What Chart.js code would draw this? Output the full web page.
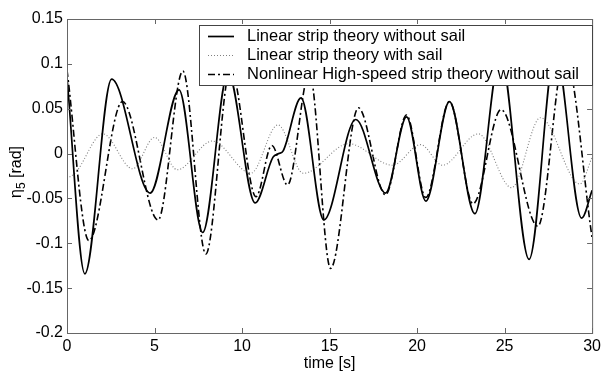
<!DOCTYPE html>
<html lang="en">
<head>
<meta charset="UTF-8">
<title>Pitch motion</title>
<style>
    html, body { margin: 0; padding: 0; background: #fff; }
    #wrap { width: 605px; height: 373px; }
</style>
</head>
<body>
<div id="wrap"><canvas id="pitchChart" width="605" height="373"></canvas></div>

<script src="https://cdn.jsdelivr.net/npm/chart.js"></script>
<script>
    // values (turning points of each curve)
    const seriesNames = [
        'Linear strip theory without sail',
        'Linear strip theory with sail',
        'Nonlinear High-speed strip theory without sail'
    ];

    const noSailT = [0, 1.02, 2.55, 4.75, 6.4, 7.75, 9.2, 10.75, 11.77, 12.1, 12.35, 13.37, 14.67, 16.5, 18.2, 19.4, 20.5, 21.85, 23.3, 24.76, 26.4, 27.9, 29.4, 30];
    const noSailV = [0.085, -0.134, 0.083, -0.044, 0.071, -0.088, 0.09, -0.055, -0.004, 0.0, 0.003, 0.062, -0.074, 0.038, -0.044, 0.041, -0.053, 0.058, -0.067, 0.11, -0.118, 0.115, -0.072, -0.041];

    const sailT = [0, 0.5, 2.05, 3.75, 5.0, 6.3, 8.3, 10.5, 12.05, 13.5, 16.1, 18.6, 20.2, 21.45, 23.5, 25.4, 27.05, 29.3, 30];
    const sailV = [-0.028, -0.021, 0.022, -0.017, 0.018, -0.018, 0.014, -0.022, 0.032, -0.022, 0.011, -0.013, 0.010, -0.013, 0.022, -0.038, 0.040, -0.034, -0.004];

    const nonlinT = [0, 1.25, 3.17, 5.2, 6.62, 7.93, 9.35, 10.8, 11.7, 12.6, 13.85, 15.06, 16.65, 18.2, 19.4, 20.5, 21.85, 23.2, 24.8, 26.9, 28.45, 30];
    const nonlinV = [0.093, -0.097, 0.058, -0.074, 0.092, -0.112, 0.095, -0.048, 0.009, -0.035, 0.09, -0.128, 0.051, -0.046, 0.043, -0.049, 0.058, -0.056, 0.049, -0.081, 0.11, -0.094];

    const xTicks = [0, 5, 10, 15, 20, 25, 30];
    const yTicks = [-0.2, -0.15, -0.1, -0.05, 0, 0.05, 0.1, 0.15];
    const yTickLabels = ['-0.2', '-0.15', '-0.1', '-0.05', '0', '0.05', '0.1', '0.15'];

    function pairUp(ts, vs) {
        return ts.map((t, i) => ({ x: t, y: vs[i] }));
    }

    const lineStyles = [
        { color: '#000', width: 1.7, dash: [] },
        { color: '#808080', width: 1.1, dash: [1, 2] },
        { color: '#000', width: 1.6, dash: [7, 3, 2, 3] }
    ];

    const FONT = 'Liberation Sans, Arial, sans-serif';

    // box round the plot with ticks pointing inwards, like the original
    const boxPlugin = {
        id: 'boxTicks',
        afterDatasetsDraw(chart) {
            const { ctx, chartArea: a, scales } = chart;
            ctx.save();
            ctx.strokeStyle = '#666';
            ctx.lineWidth = 1;
            ctx.strokeRect(a.left + 0.5, a.top + 0.5, a.right - a.left, a.bottom - a.top);
            ctx.beginPath();
            xTicks.forEach(v => {
                const px = Math.round(scales.x.getPixelForValue(v)) + 0.5;
                ctx.moveTo(px, a.bottom); ctx.lineTo(px, a.bottom - 5);
                ctx.moveTo(px, a.top); ctx.lineTo(px, a.top + 5);
            });
            yTicks.forEach(v => {
                const py = Math.round(scales.y.getPixelForValue(v)) + 0.5;
                ctx.moveTo(a.left, py); ctx.lineTo(a.left + 5, py);
                ctx.moveTo(a.right, py); ctx.lineTo(a.right - 5, py);
            });
            ctx.stroke();
            ctx.restore();
        },
        afterDraw(chart) {
            const { ctx } = chart;
            // legend box inside the plot
            const bx = 199, by = 25, bw = 393, bh = 60;
            ctx.save();
            ctx.fillStyle = '#fff';
            ctx.fillRect(bx, by, bw, bh);
            ctx.strokeStyle = '#444';
            ctx.lineWidth = 1;
            ctx.strokeRect(bx + 0.5, by + 0.5, bw, bh);
            ctx.font = '16.5px ' + FONT;
            ctx.textBaseline = 'middle';
            ctx.fillStyle = '#000';
            seriesNames.forEach((name, i) => {
                const y = 36.5 + i * 19;
                const st = lineStyles[i];
                ctx.beginPath();
                ctx.strokeStyle = st.color;
                ctx.lineWidth = st.width;
                ctx.setLineDash(st.dash);
                ctx.moveTo(208, y); ctx.lineTo(234, y);
                ctx.stroke();
                ctx.setLineDash([]);
                ctx.fillText(name, 247, y);
            });

            // y axis title: eta with subscript 5
            ctx.translate(25, 172);
            ctx.rotate(-Math.PI / 2);
            ctx.textBaseline = 'alphabetic';
            ctx.textAlign = 'left';
            const big = '16px ' + FONT, small = '12px ' + FONT;
            ctx.font = big;
            const w1 = ctx.measureText('\u03b7').width;
            const w3 = ctx.measureText(' [rad]').width;
            ctx.font = small;
            const w2 = ctx.measureText('5').width;
            let x = -(w1 + w2 + w3) / 2;
            ctx.font = big;
            ctx.fillText('\u03b7', x, -4);
            x += w1;
            ctx.font = small;
            ctx.fillText('5', x, 0);
            x += w2;
            ctx.font = big;
            ctx.fillText(' [rad]', x, -4);
            ctx.restore();
        }
    };

    Chart.defaults.font.family = FONT;
    Chart.defaults.font.size = 16;
    Chart.defaults.color = '#000';

    const datasets = [
        pairUp(noSailT, noSailV),
        pairUp(sailT, sailV),
        pairUp(nonlinT, nonlinV)
    ].map((pts, i) => ({
        label: seriesNames[i],
        data: pts,
        borderColor: lineStyles[i].color,
        borderWidth: lineStyles[i].width,
        borderDash: lineStyles[i].dash,
        pointRadius: 0,
        fill: false,
        cubicInterpolationMode: 'monotone'
    }));

    new Chart(document.getElementById('pitchChart').getContext('2d'), {
        type: 'line',
        data: { datasets: datasets },
        options: {
            responsive: false,
            animation: false,
            layout: { padding: { top: 19, right: 8, bottom: 0, left: 0 } },
            plugins: {
                legend: { display: false },
                tooltip: { enabled: false }
            },
            scales: {
                x: {
                    type: 'linear',
                    min: 0,
                    max: 30,
                    afterBuildTicks: s => { s.ticks = xTicks.map(v => ({ value: v })); },
                    afterFit: s => { s.height = 40; },
                    grid: { display: false, drawTicks: false },
                    border: { display: false },
                    ticks: { padding: 4, maxRotation: 0, callback: v => String(v) },
                    title: { display: true, text: 'time [s]', padding: { top: 0, bottom: 0 } }
                },
                y: {
                    type: 'linear',
                    min: -0.2,
                    max: 0.15,
                    afterBuildTicks: s => { s.ticks = yTicks.map(v => ({ value: v })); },
                    afterFit: s => { s.width = 67; },
                    grid: { display: false, drawTicks: false },
                    border: { display: false },
                    ticks: {
                        padding: 4,
                        callback: v => yTickLabels[yTicks.findIndex(t => Math.abs(t - v) < 1e-9)]
                    }
                }
            }
        },
        plugins: [boxPlugin]
    });
</script>
</body>
</html>
